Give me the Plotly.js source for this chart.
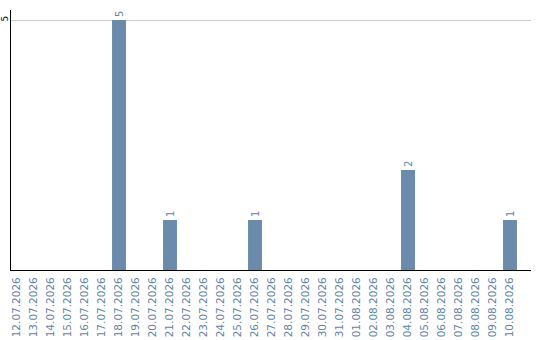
<!DOCTYPE html>
<html>
<head>
<meta charset="utf-8">
<script src="https://cdn.plot.ly/plotly-3.0.1.min.js"></script>
<style>
  html, body { margin: 0; padding: 0; background: #fff; }
  #chart { width: 540px; height: 340px; }
</style>
</head>
<body>
<div id="chart"></div>
<script>
// Daily counts, 12.07.2026 – 10.08.2026
const dates = [
  "12.07.2026", "13.07.2026", "14.07.2026", "15.07.2026", "16.07.2026",
  "17.07.2026", "18.07.2026", "19.07.2026", "20.07.2026", "21.07.2026",
  "22.07.2026", "23.07.2026", "24.07.2026", "25.07.2026", "26.07.2026",
  "27.07.2026", "28.07.2026", "29.07.2026", "30.07.2026", "31.07.2026",
  "01.08.2026", "02.08.2026", "03.08.2026", "04.08.2026", "05.08.2026",
  "06.08.2026", "07.08.2026", "08.08.2026", "09.08.2026", "10.08.2026"
];
const counts = [
  0, 0, 0, 0, 0,
  0, 5, 0, 0, 1,
  0, 0, 0, 0, 1,
  0, 0, 0, 0, 0,
  0, 0, 0, 2, 0,
  0, 0, 0, 0, 1
];
const yTicks = [5];

const barColor = "#6a8bab";
const labelColor = "#5f84aa";

const trace = {
  type: "bar",
  x: dates,
  y: counts,
  marker: { color: barColor },
  width: 0.82,
  text: counts.map(v => (v > 0 ? String(v) : "")),
  textposition: "outside",
  textangle: -90,
  cliponaxis: false,
  textfont: { family: "DejaVu Sans", size: 10, color: labelColor },
  hoverinfo: "x+y"
};

const layout = {
  width: 540,
  height: 340,
  margin: { l: 11, r: 9, t: 10, b: 70 },
  paper_bgcolor: "#fff",
  plot_bgcolor: "#fff",
  showlegend: false,
  bargap: 0.18,
  xaxis: {
    type: "category",
    range: [-0.353, 30.235],
    tickangle: -90,
    tickfont: { family: "DejaVu Sans", size: 10.5, color: labelColor },
    ticklabelstandoff: 2,
    showgrid: false,
    showline: true,
    linecolor: "#000",
    linewidth: 1,
    ticks: "",
    zeroline: false,
    fixedrange: true
  },
  yaxis: {
    range: [0, 5.2],
    tickvals: yTicks,
    ticktext: yTicks.map(String),
    tickangle: -90,
    tickfont: { family: "DejaVu Sans", size: 9, color: "#000" },
    ticklabelstandoff: -2,
    showgrid: true,
    gridcolor: "#cccccc",
    gridwidth: 1,
    showline: true,
    linecolor: "#000",
    linewidth: 1,
    ticks: "",
    zeroline: false,
    fixedrange: true
  }
};

Plotly.newPlot("chart", [trace], layout, { displayModeBar: false, staticPlot: true });
</script>
</body>
</html>
